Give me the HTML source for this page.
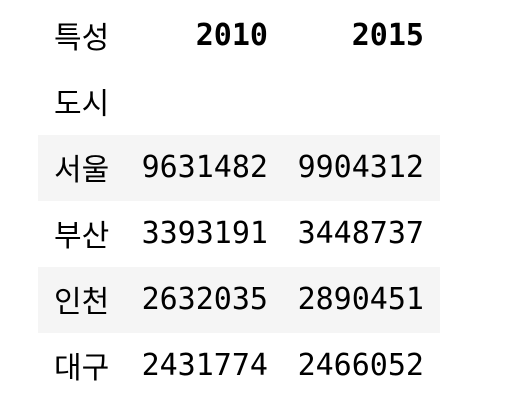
<!DOCTYPE html>
<html><head><meta charset="utf-8"><style>
body{margin:0;width:526px;height:420px;background:#fff;overflow:hidden;position:relative;font-family:"DejaVu Sans Mono","Noto Sans CJK KR",monospace;font-size:30px;color:#000}
.row{position:absolute;left:38px;width:402px;height:66px}
.s{background:#f5f5f5}
.c{position:absolute;line-height:66px;white-space:nowrap}
.i{left:16px;top:3px}
.a{right:172px}
.b{right:16px}
.h{font-weight:bold}
</style></head><body>
<div class="row" style="top:3px">
<span class="c i">특성</span>
<span class="c a h">2010</span>
<span class="c b h">2015</span></div>
<div class="row" style="top:69px">
<span class="c i">도시</span></div>
<div class="row s" style="top:135px">
<span class="c i">서울</span>
<span class="c a">9631482</span>
<span class="c b">9904312</span></div>
<div class="row" style="top:201px">
<span class="c i">부산</span>
<span class="c a">3393191</span>
<span class="c b">3448737</span></div>
<div class="row s" style="top:267px">
<span class="c i">인천</span>
<span class="c a">2632035</span>
<span class="c b">2890451</span></div>
<div class="row" style="top:333px">
<span class="c i">대구</span>
<span class="c a">2431774</span>
<span class="c b">2466052</span></div>
</body></html>
